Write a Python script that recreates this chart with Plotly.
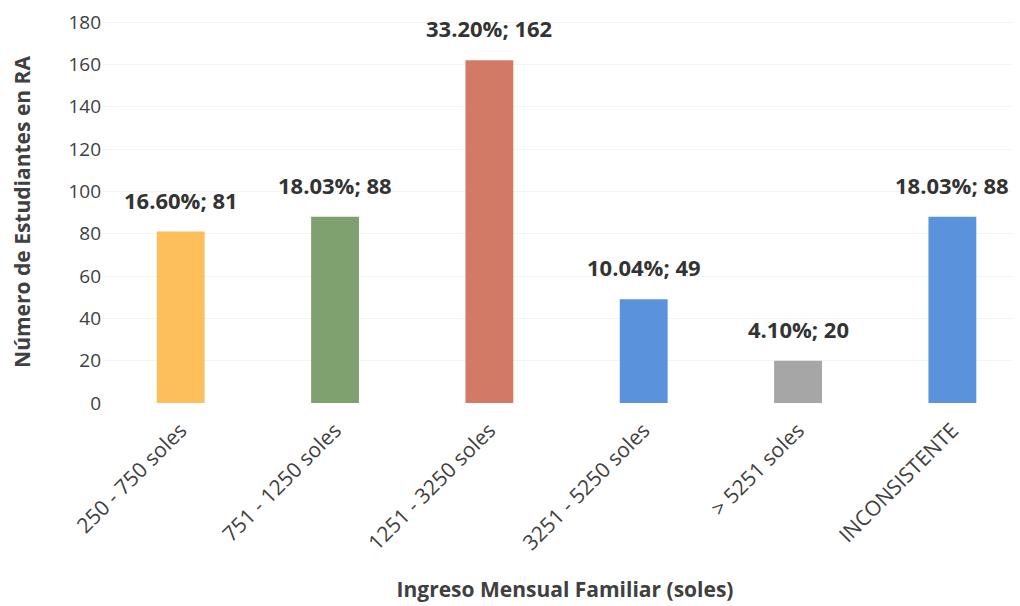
import plotly.graph_objects as go

categories = ["250 - 750 soles", "751 - 1250 soles", "1251 - 3250 soles",
              "3251 - 5250 soles", "> 5251 soles", "INCONSISTENTE"]
counts = [81, 88, 162, 49, 20, 88]
percents = ["16.60%", "18.03%", "33.20%", "10.04%", "4.10%", "18.03%"]
colors = ["#FDBF5B", "#7FA16F", "#D27A66", "#5A93DB", "#A6A6A6", "#5A93DB"]
y_ticks = [0, 20, 40, 60, 80, 100, 120, 140, 160, 180]

labels = [f"{p}; {c}" for p, c in zip(percents, counts)]

fig = go.Figure(go.Bar(
    x=categories, y=counts, marker_color=colors, marker_line_width=0,
))

for cat, val, lab in zip(categories, counts, labels):
    fig.add_annotation(
        x=cat, y=val, text=f"<b>{lab}</b>", showarrow=False,
        yanchor="bottom", yshift=15,
        font=dict(family="Open Sans", size=22, color="#333333"),
    )

fig.update_layout(
    width=1020, height=606,
    margin=dict(l=94, r=0, t=13, b=211),
    paper_bgcolor="white", plot_bgcolor="white",
    bargap=0.69, showlegend=False,
    font=dict(family="Open Sans", color="#404040"),
)
fig.update_yaxes(
    range=[0, 180.5], tickvals=y_ticks, automargin=False,
    showgrid=True, gridcolor="#f4f4f4",
    zeroline=False, showline=False,
    tickfont=dict(size=19, color="#404040"),
    title=dict(text="<b>Número de Estudiantes en RA</b>", font=dict(size=21, color="#404040"), standoff=33),
)
fig.update_xaxes(
    range=[-0.51, 5.49], automargin=False,
    tickangle=-45, showgrid=False, showline=False,
    ticklabelstandoff=10,
    tickfont=dict(size=21, color="#404040"),
    title=dict(text="<b>Ingreso Mensual Familiar (soles)</b>", font=dict(size=21, color="#404040"), standoff=27),
)

fig.write_html("out.html")
